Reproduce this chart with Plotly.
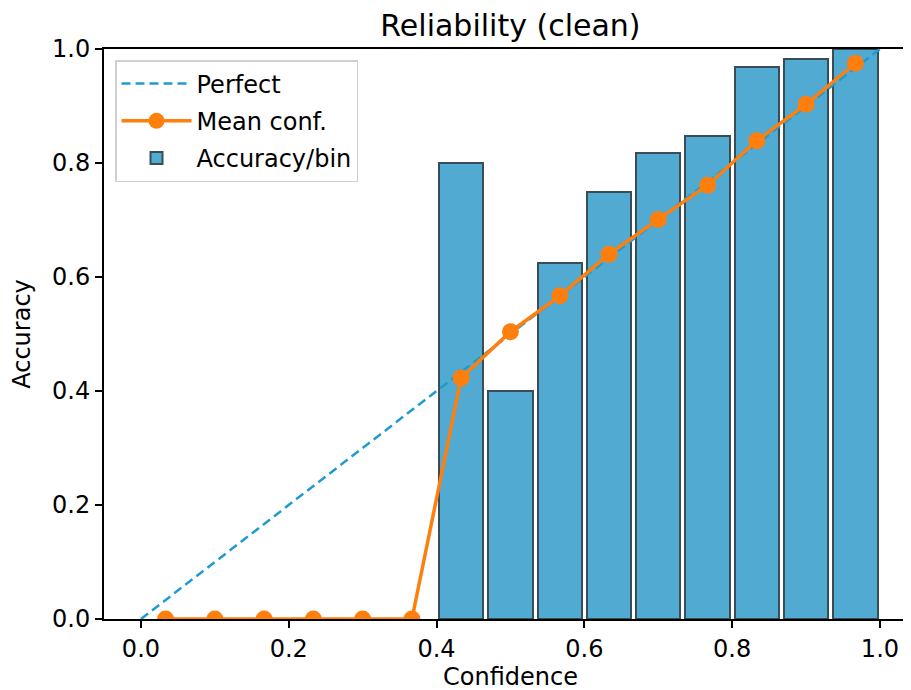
import plotly.graph_objects as go

# Data
bin_centers = [0.0333, 0.1, 0.1667, 0.2333, 0.3, 0.3667, 0.4333, 0.5, 0.5667,
               0.6333, 0.7, 0.7667, 0.8333, 0.9, 0.9667]
mean_conf = [0.0, 0.0, 0.0, 0.0, 0.0, 0.0, 0.423, 0.504, 0.567,
             0.640, 0.701, 0.761, 0.839, 0.903, 0.975]
bar_centers = [0.4333, 0.5, 0.5667, 0.6333, 0.7, 0.7667, 0.8333, 0.9, 0.9667]
accuracy = [0.80, 0.40, 0.625, 0.75, 0.818, 0.847, 0.968, 0.982, 1.0]
perfect_x = [0.0, 1.0]
perfect_y = [0.0, 1.0]
x_ticks = [0.0, 0.2, 0.4, 0.6, 0.8, 1.0]
y_ticks = [0.0, 0.2, 0.4, 0.6, 0.8, 1.0]
bar_width = 0.06

FONT = "DejaVu Sans"

fig = go.Figure()
fig.add_trace(go.Bar(
    x=bar_centers, y=accuracy, width=bar_width, name="Accuracy/bin",
    marker=dict(color="#50aad2", line=dict(color="#3a4c55", width=2)),
    legendrank=3, legendgroup="c",
))
fig.add_trace(go.Scatter(
    x=perfect_x, y=perfect_y, mode="lines", name="Perfect",
    line=dict(color="#1f9bd0", width=2.5, dash="9px,5px"),
    legendrank=1, legendgroup="a",
))
fig.add_trace(go.Scatter(
    x=bin_centers, y=mean_conf, mode="lines+markers", name="Mean conf.",
    line=dict(color="#ff7f0e", width=3.5),
    marker=dict(color="#ff7f0e", size=17),
    legendrank=2, legendgroup="b",
))

# page is offset by 8px body margin
W, H = 903, 682
left, top, bottom = 96, 41, 611
x0 = -0.05
scale = 739.0
x1 = x0 + (W - left) / scale

fig.update_layout(
    width=W, height=H,
    margin=dict(l=left, r=0, t=top, b=H - bottom, pad=0, autoexpand=False),
    plot_bgcolor="white", paper_bgcolor="white",
    font=dict(family=FONT, size=24, color="black"),
    title=dict(text="Reliability (clean)", x=(left + (0.5 - x0) * scale) / W,
               xanchor="center", y=1 - 17 / H, yanchor="middle",
               font=dict(size=30, family=FONT)),
    showlegend=True,
    legend=dict(x=(107 - left) / (W - left), y=1 - (52 - top) / (bottom - top),
                xanchor="left", yanchor="top",
                bgcolor="rgba(255,255,255,0.8)", bordercolor="#d0d0d0", borderwidth=1.5,
                font=dict(size=24, family=FONT), traceorder="grouped",
                itemwidth=70, tracegroupgap=3),
    bargap=0,
    annotations=[dict(text="Confidence", xref="x", x=0.5, yref="paper",
                      y=-(669 - bottom) / (bottom - top), yanchor="middle",
                      xanchor="center", showarrow=False, font=dict(size=24, family=FONT))],
)
fig.update_xaxes(
    range=[x0, x1], tickvals=x_ticks, ticktext=[f"{v:.1f}" for v in x_ticks],
    showgrid=False, zeroline=False, showline=True, linecolor="black", linewidth=2,
    mirror=True, ticks="outside", ticklen=7, tickwidth=1.6, tickcolor="black",
    tickfont=dict(size=24), automargin=False,
)
fig.update_yaxes(
    range=[0, 1], tickvals=y_ticks, ticktext=[f"{v:.1f}" for v in y_ticks],
    showgrid=False, zeroline=False, showline=True, linecolor="black", linewidth=2,
    ticks="outside", ticklen=7, tickwidth=1.6, tickcolor="black",
    title=dict(text="Accuracy", standoff=17, font=dict(size=24)),
    tickfont=dict(size=24), automargin=False,
)

fig.write_html("out.html")
